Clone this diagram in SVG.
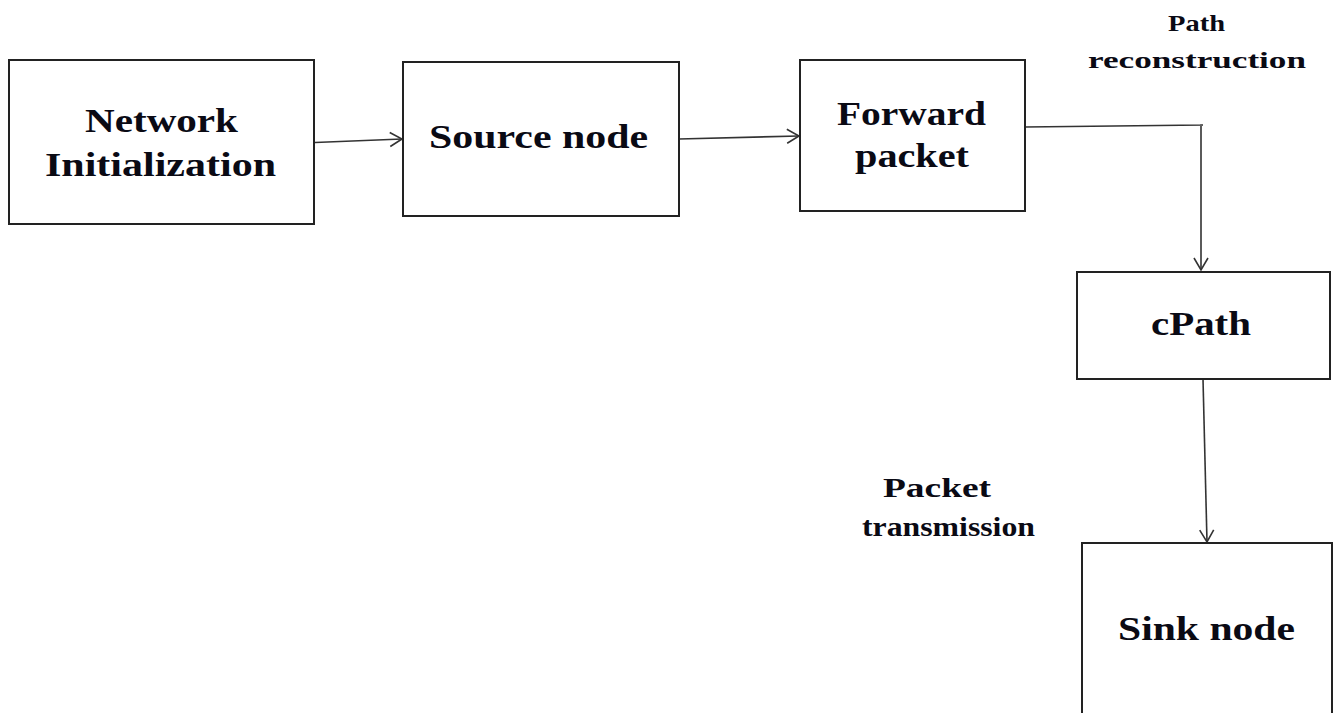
<svg xmlns="http://www.w3.org/2000/svg" width="1334" height="713" viewBox="0 0 1334 713">
  <style>
    .box { fill: #fff; stroke: #222; stroke-width: 2; }
    .lbl { font-family: "Liberation Serif", "Times New Roman", serif; font-weight: bold; fill: #0a0a14; }
    .big { font-size: 33px; }
    .mid { font-size: 28px; }
    .small { font-size: 24px; }
    .conn { fill: none; stroke: #333; stroke-width: 1.6; }
  </style>
  <defs>
    <marker id="arrow" markerUnits="userSpaceOnUse" markerWidth="16" markerHeight="18" refX="13" refY="8" orient="auto">
      <path d="M1,1 L13,8 L1,15" fill="none" stroke="#333" stroke-width="1.6"/>
    </marker>
  </defs>
  <rect width="1334" height="713" fill="#fff"/>

  <g id="connectors">
    <line class="conn" x1="315" y1="142.5" x2="402" y2="139" marker-end="url(#arrow)"/>
    <line class="conn" x1="679" y1="139" x2="799" y2="136" marker-end="url(#arrow)"/>
    <polyline class="conn" points="1025,127 1203,125 1201,125 1201,270" marker-end="url(#arrow)"/>
    <line class="conn" x1="1203" y1="379" x2="1207" y2="542" marker-end="url(#arrow)"/>
  </g>

  <g id="network-init">
    <rect class="box" x="9" y="60" width="305" height="164"/>
    <text class="lbl big" x="85" y="132" textLength="153" lengthAdjust="spacingAndGlyphs">Network</text>
    <text class="lbl big" x="45" y="176" textLength="231" lengthAdjust="spacingAndGlyphs">Initialization</text>
  </g>

  <g id="source-node">
    <rect class="box" x="403" y="62" width="276" height="154"/>
    <text class="lbl big" x="429" y="148" textLength="219" lengthAdjust="spacingAndGlyphs">Source node</text>
  </g>

  <g id="forward-packet">
    <rect class="box" x="800" y="60" width="225" height="151"/>
    <text class="lbl big" x="837" y="125" textLength="149" lengthAdjust="spacingAndGlyphs">Forward</text>
    <text class="lbl big" x="855" y="167" textLength="114" lengthAdjust="spacingAndGlyphs">packet</text>
  </g>

  <g id="path-reconstruction">
    <text class="lbl small" x="1168" y="31" textLength="57" lengthAdjust="spacingAndGlyphs">Path</text>
    <text class="lbl small" x="1088" y="68" textLength="218" lengthAdjust="spacingAndGlyphs">reconstruction</text>
  </g>

  <g id="cpath">
    <rect class="box" x="1077" y="272" width="253" height="107"/>
    <text class="lbl big" x="1151" y="335" textLength="100" lengthAdjust="spacingAndGlyphs">cPath</text>
  </g>

  <g id="packet-transmission">
    <text class="lbl mid" x="883" y="497" textLength="108" lengthAdjust="spacingAndGlyphs">Packet</text>
    <text class="lbl mid" x="862" y="536" textLength="173" lengthAdjust="spacingAndGlyphs">transmission</text>
  </g>

  <g id="sink-node">
    <rect class="box" x="1082" y="543" width="250" height="180"/>
    <text class="lbl big" x="1118" y="640" textLength="177" lengthAdjust="spacingAndGlyphs">Sink node</text>
  </g>
</svg>
